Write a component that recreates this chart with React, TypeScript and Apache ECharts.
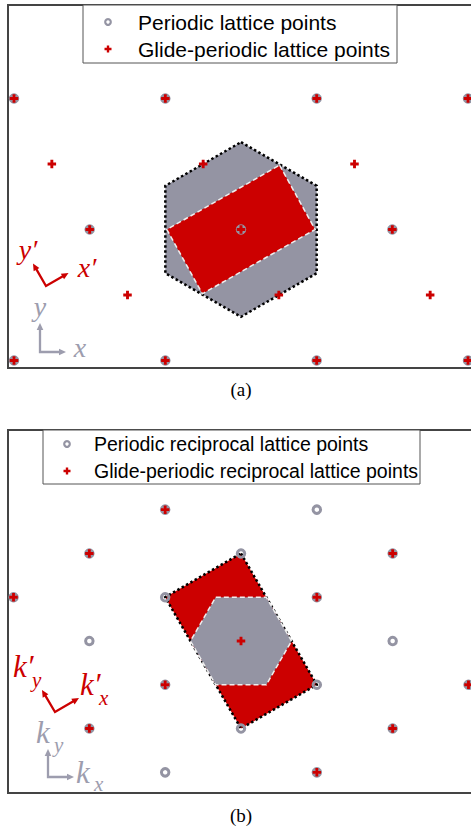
import React, { useEffect, useRef } from 'react';
import * as echarts from 'echarts';

// ---------- data (lattice units) ----------
// Panel (a): real-space lattice, lattice constant = 1
const periodicA: number[][] = [
  [-1.5, 0.866], [-0.5, 0.866], [0.5, 0.866], [1.5, 0.866],
  [-1, 0], [0, 0], [1, 0],
  [-1.5, -0.866], [-0.5, -0.866], [0.5, -0.866], [1.5, -0.866],
];
const glideA: number[][] = [
  [-1.5, 0.866], [-0.5, 0.866], [0.5, 0.866], [1.5, 0.866],
  [-1.25, 0.433], [-0.25, 0.433], [0.75, 0.433],
  [-1, 0], [0, 0], [1, 0],
  [-0.75, -0.433], [0.25, -0.433], [1.25, -0.433],
  [-1.5, -0.866], [-0.5, -0.866], [0.5, -0.866], [1.5, -0.866],
];
const hexA: number[][] = [
  [0, 0.577], [0.5, 0.289], [0.5, -0.289], [0, -0.577], [-0.5, -0.289], [-0.5, 0.289],
];
const rectA: number[][] = [
  [0.255, 0.425], [0.49, 0], [-0.255, -0.425], [-0.49, 0],
];

// Panel (b): reciprocal lattice, nearest reciprocal spacing = 1
const periodicB: number[][] = [
  [-0.866, 1.5], [0.866, 1.5],
  [-1.732, 1.0], [0, 1.0], [1.732, 1.0],
  [-2.598, 0.5], [-0.866, 0.5], [0.866, 0.5],
  [-1.732, 0], [1.732, 0],
  [-0.866, -0.5], [0.866, -0.5], [2.598, -0.5],
  [-1.732, -1.0], [0, -1.0], [1.732, -1.0],
  [-0.866, -1.5], [0.866, -1.5],
];
const glideB: number[][] = [
  [-0.866, 1.5],
  [-1.732, 1.0], [1.732, 1.0],
  [-2.598, 0.5], [0.866, 0.5],
  [0, 0],
  [-0.866, -0.5], [2.598, -0.5],
  [-1.732, -1.0], [1.732, -1.0],
  [0.866, -1.5],
];
const hexB: number[][] = [
  [0.577, 0], [0.289, 0.5], [-0.289, 0.5], [-0.577, 0], [-0.289, -0.5], [0.289, -0.5],
];
const rectB: number[][] = [
  [0, 1], [0.866, -0.5], [0, -1], [-0.866, 0.5],
];

const legendA = ['Periodic lattice points', 'Glide-periodic lattice points'];
const legendB = ['Periodic reciprocal lattice points', 'Glide-periodic reciprocal lattice points'];

// ---------- styles ----------
const GRAY = '#9494a3';
const AXGRAY = '#9d9dae';
const RED = '#cc0000';
const PLUS = 'path://M33,0H67V33H100V67H67V100H33V67H0V33H33Z';
const SANS = '"Liberation Sans", Arial, Helvetica, sans-serif';
const SERIF = '"Liberation Serif", "Times New Roman", serif';

function polygonSeries(pts: number[][], idx: number, fill: string, stroke: string, lineWidth: number, dash: number[]) {
  return {
    type: 'custom',
    xAxisIndex: idx,
    yAxisIndex: idx,
    silent: true,
    data: pts,
    renderItem: (params: any, api: any) => {
      if (params.dataIndex !== 0) return null;
      const points = pts.map((p) => api.coord(p));
      return {
        type: 'polygon',
        shape: { points },
        style: { fill, stroke, lineWidth, lineDash: dash, lineCap: 'butt' },
      };
    },
  };
}

function circleSeries(name: string, data: number[][], idx: number) {
  return {
    type: 'scatter', name, xAxisIndex: idx, yAxisIndex: idx, data,
    symbol: 'circle', symbolSize: 7.5,
    itemStyle: { color: 'transparent', borderColor: GRAY, borderWidth: 3, opacity: 1 },
    silent: true,
  };
}
function plusSeries(name: string, data: number[][], idx: number) {
  return {
    type: 'scatter', name, xAxisIndex: idx, yAxisIndex: idx, data,
    symbol: PLUS, symbolSize: 8.5,
    itemStyle: { color: RED, opacity: 1 },
    silent: true,
  };
}

function plusShape(cx: number, cy: number, s: number) {
  const h = s / 2, t = s * 0.17;
  return [
    [cx - t, cy - h], [cx + t, cy - h], [cx + t, cy - t], [cx + h, cy - t], [cx + h, cy + t],
    [cx + t, cy + t], [cx + t, cy + h], [cx - t, cy + h], [cx - t, cy + t], [cx - h, cy + t],
    [cx - h, cy - t], [cx - t, cy - t],
  ];
}

function legendBox(names: string[], x: number, y: number, w: number, h: number, iconX: number, textX: number, rowY: number[], fontSize: number) {
  return [
    { type: 'rect', z: 10, shape: { x, y, width: w, height: h }, style: { fill: '#fff', stroke: '#555', lineWidth: 1 } },
    { type: 'circle', z: 11, shape: { cx: iconX, cy: rowY[0], r: 2.8 }, style: { fill: 'none', stroke: GRAY, lineWidth: 2.2 } },
    { type: 'polygon', z: 11, shape: { points: plusShape(iconX, rowY[1], 7) }, style: { fill: RED } },
    { type: 'text', z: 11, style: { text: names[0], x: textX, y: rowY[0], fill: '#000', align: 'left', verticalAlign: 'middle', font: `${fontSize}px ${SANS}` } },
    { type: 'text', z: 11, style: { text: names[1], x: textX, y: rowY[1], fill: '#000', align: 'left', verticalAlign: 'middle', font: `${fontSize}px ${SANS}` } },
  ];
}

function arrowPair(ox: number, oy: number, t1: number[], t2: number[], color: string) {
  const head = 7, w = 3.3;
  const parts: any[] = [];
  const bases: number[][] = [];
  [t1, t2].forEach((t) => {
    const dx = t[0] - ox, dy = t[1] - oy;
    const L = Math.hypot(dx, dy);
    const ux = dx / L, uy = dy / L;
    const bx = t[0] - ux * head, by = t[1] - uy * head;
    bases.push([bx + ux, by + uy]);
    parts.push({
      type: 'polygon',
      shape: { points: [[t[0], t[1]], [bx - uy * w, by + ux * w], [bx + uy * w, by - ux * w]] },
      style: { fill: color },
    });
  });
  parts.push({
    type: 'polyline',
    shape: { points: [bases[0], [ox, oy], bases[1]] },
    style: { stroke: color, lineWidth: 2.3, fill: null, lineJoin: 'miter' },
  });
  return parts;
}

function label(text: string, x: number, y: number, size: number, color: string, align = 'center') {
  return {
    type: 'text',
    style: {
      text, x, y, fill: color, align, verticalAlign: 'middle',
      font: `italic ${size}px ${SERIF}`,
    },
  };
}

export default function App() {
  const ref = useRef<HTMLDivElement>(null);
  useEffect(() => {
    if (!ref.current) return;
    const chart = echarts.init(ref.current, undefined, { renderer: 'svg', width: 471, height: 829 });

    const gridCommon = {
      show: true, borderColor: '#444', borderWidth: 2, backgroundColor: 'transparent',
      containLabel: false, outerBoundsMode: 'none',
    };

    const option: any = {
      animation: false,
      backgroundColor: '#fff',
      grid: [
        { ...gridCommon, left: 8, top: 5, width: 470, height: 363 },
        { ...gridCommon, left: 8, top: 430, width: 470, height: 363 },
      ],
      xAxis: [
        { type: 'value', gridIndex: 0, min: -1.5397, max: 1.5661, show: false },
        { type: 'value', gridIndex: 1, min: -2.661, max: 2.7067, show: false },
      ],
      yAxis: [
        { type: 'value', gridIndex: 0, min: -0.9152, max: 1.4835, show: false },
        { type: 'value', gridIndex: 1, min: -1.7359, max: 2.4098, show: false },
      ],
      series: [
        polygonSeries(hexA, 0, GRAY, '#000', 2.5, [2.5, 2.5]),
        polygonSeries(rectA, 0, RED, '#eeeeee', 1.5, [5, 3]),
        circleSeries(legendA[0], periodicA, 0),
        plusSeries(legendA[1], glideA, 0),
        polygonSeries(rectB, 1, RED, '#000', 2.5, [2.5, 2.5]),
        polygonSeries(hexB, 1, GRAY, '#eeeeee', 1.5, [5, 3]),
        circleSeries(legendB[0], periodicB, 1),
        plusSeries(legendB[1], glideB, 1),
      ],
      graphic: [
        // legends
        ...legendBox(legendA, 83, 5, 314, 58, 108, 138, [22, 49], 21),
        ...legendBox(legendB, 43, 430, 377, 54, 67, 94, [444, 471], 19.5),
        // panel (a) axes indicators
        ...arrowPair(46, 286, [68.5, 273], [33, 263.5], RED),
        ...arrowPair(40, 352, [40, 323], [66, 352], AXGRAY),
        label('y\u2032', 28, 249, 28, RED),
        label('x\u2032', 87, 267, 28, RED),
        label('y', 40, 306, 28, AXGRAY),
        label('x', 80, 347, 28, AXGRAY),
        // panel (b) axes indicators
        ...arrowPair(55, 712, [79, 698], [42, 690], RED),
        ...arrowPair(48, 777, [48, 749], [74, 777], AXGRAY),
        label('k\u2032', 13, 666, 31, RED, 'left'),
        label('y', 32, 680, 21, RED, 'left'),
        label('k\u2032', 80, 684, 31, RED, 'left'),
        label('x', 99, 698, 21, RED, 'left'),
        label('k', 36, 732, 31, AXGRAY, 'left'),
        label('y', 54, 745, 21, AXGRAY, 'left'),
        label('k', 76, 772, 31, AXGRAY, 'left'),
        label('x', 94, 784, 21, AXGRAY, 'left'),
        // captions
        {
          type: 'text',
          style: { text: '(a)', x: 241, y: 389, align: 'center', verticalAlign: 'middle', fill: '#000', font: `19px ${SERIF}` },
        },
        {
          type: 'text',
          style: { text: '(b)', x: 241, y: 815, align: 'center', verticalAlign: 'middle', fill: '#000', font: `19px ${SERIF}` },
        },
      ],
    };
    chart.setOption(option);
    return () => chart.dispose();
  }, []);

  return (
    <div
      ref={ref}
      style={{ position: 'absolute', left: 0, top: 0, width: 471, height: 829, overflow: 'hidden', background: '#fff' }}
    />
  );
}
